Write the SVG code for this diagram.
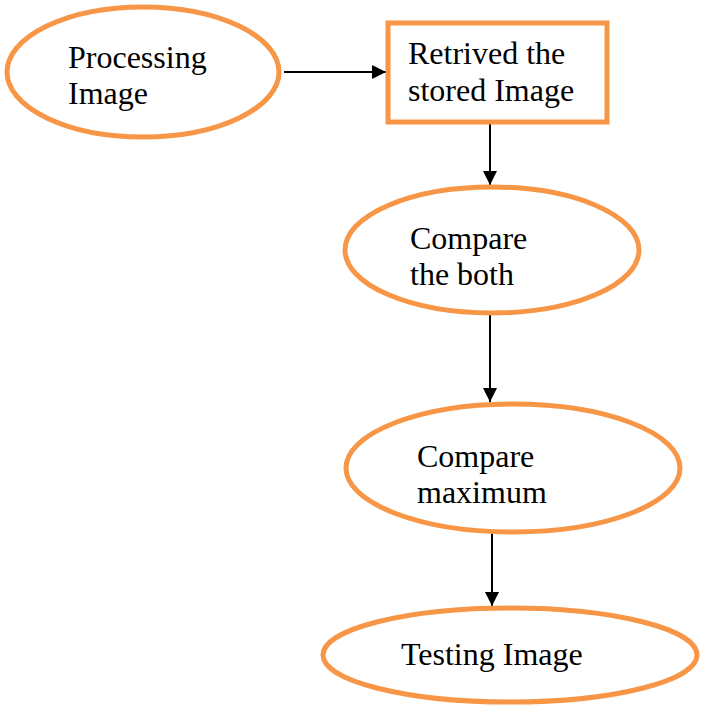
<svg xmlns="http://www.w3.org/2000/svg" width="702" height="706" viewBox="0 0 702 706">
<style>
.n{fill:#fff;stroke:#F79646;stroke-width:5}
.t{font-family:"Liberation Serif","Times New Roman",serif;font-size:32px;fill:#000}
.c{stroke:#000;stroke-width:2;fill:none}
</style>
<defs>
<marker id="a" markerWidth="14" markerHeight="14" refX="14" refY="7" orient="auto" markerUnits="userSpaceOnUse">
<path d="M0,0 L14,7 L0,14 Z" fill="#000"/>
</marker>
</defs>
<rect width="702" height="706" fill="#fff"/>
<g id="connectors">
<line class="c" x1="284" y1="72" x2="386" y2="72" marker-end="url(#a)"/>
<line class="c" x1="490" y1="124" x2="490" y2="185" marker-end="url(#a)"/>
<line class="c" x1="490" y1="314" x2="490" y2="402" marker-end="url(#a)"/>
<line class="c" x1="492" y1="534" x2="492" y2="606" marker-end="url(#a)"/>
</g>
<g id="processing">
<ellipse class="n" cx="143" cy="72" rx="136" ry="65"/>
<text class="t" x="68" y="68">Processing</text>
<text class="t" x="68" y="104">Image</text>
</g>
<g id="retrived">
<rect class="n" x="388" y="23" width="219" height="99"/>
<text class="t" x="408" y="64">Retrived the</text>
<text class="t" x="408" y="101">stored Image</text>
</g>
<g id="compare-both">
<ellipse class="n" cx="492" cy="250" rx="147" ry="63"/>
<text class="t" x="410" y="249">Compare</text>
<text class="t" x="410" y="285">the both</text>
</g>
<g id="compare-max">
<ellipse class="n" cx="513" cy="468" rx="167" ry="64"/>
<text class="t" x="417" y="467">Compare</text>
<text class="t" x="417" y="503">maximum</text>
</g>
<g id="testing">
<ellipse class="n" cx="510" cy="655" rx="187" ry="47"/>
<text class="t" x="401" y="665">Testing Image</text>
</g>
</svg>
